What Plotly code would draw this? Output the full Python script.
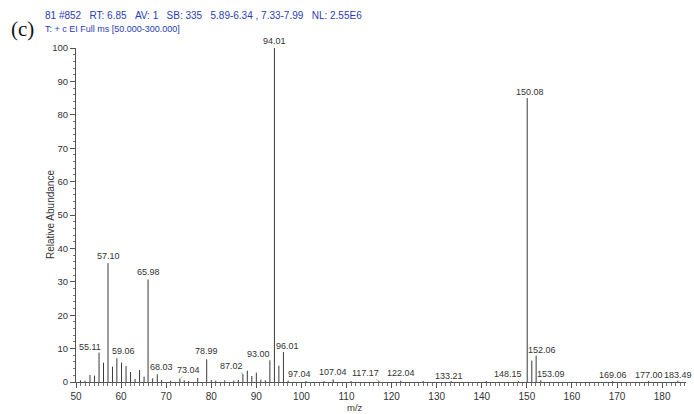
import plotly.graph_objects as go

# Centroided EI mass spectrum (relative abundance, base peak = 100)
mz = [51.0, 52.0, 53.1, 54.1, 55.11, 56.1, 57.10, 58.1, 59.06, 60.1, 61.1, 62.1,
      63.1, 64.1, 65.1, 65.98, 67.0, 68.03, 69.0, 71.0, 73.04, 74.0, 75.0, 77.0,
      78.99, 80.0, 81.0, 83.0, 85.0, 86.0, 87.02, 88.0, 89.0, 90.0, 91.0, 92.0,
      93.00, 94.01, 95.0, 96.01, 97.04, 101.0, 105.0, 107.04, 111.0, 117.17,
      122.04, 127.0, 133.21, 141.0, 148.15, 150.08, 151.1, 152.06, 153.09,
      169.06, 177.00, 183.49]
abundance = [0.5, 0.4, 2.1, 1.9, 8.8, 5.8, 35.6, 4.6, 7.1, 5.8, 4.8, 3.0,
             0.9, 3.6, 1.6, 30.7, 1.1, 2.3, 0.6, 0.4, 1.0, 0.5, 0.3, 1.2,
             6.8, 0.6, 0.4, 0.5, 0.4, 0.6, 2.4, 3.4, 1.8, 2.8, 0.7, 0.5,
             6.5, 100.0, 4.9, 9.0, 0.4, 0.3, 0.3, 0.8, 0.3, 0.3,
             0.4, 0.3, 0.3, 0.3, 0.3, 85.0, 6.4, 7.9, 0.5,
             0.3, 0.3, 0.4]

# Peaks that carry an m/z label
labeled_mz = [55.11, 57.10, 59.06, 65.98, 68.03, 73.04, 78.99, 87.02, 93.00,
              94.01, 96.01, 97.04, 107.04, 117.17, 122.04, 133.21, 148.15,
              150.08, 152.06, 153.09, 169.06, 177.00, 183.49]

x_ticks = list(range(50, 181, 10))
y_ticks = list(range(0, 101, 10))

GAP = "\u00a0\u00a0\u00a0"
header_line1 = ("81 #852" + GAP + "RT: 6.85" + GAP + "AV: 1" + GAP + "SB: 335" + GAP +
                "5.89-6.34 , 7.33-7.99" + GAP + "NL: 2.55E6")
header_line2 = "T: + c EI Full ms [50.000-300.000]"

# label placement: (dx, dy) in pixels from the peak top, and whether a leader is drawn
label_layout = {
    55.11: (-9, -6, True), 57.10: (0, -7, False), 59.06: (7, -7, True),
    65.98: (0, -7, False), 68.03: (4, -7, True), 73.04: (9, -9, True),
    78.99: (0, -8, False), 87.02: (-11, -8, True), 93.00: (-11, -6, True),
    94.01: (0, -7, False), 96.01: (4, -6, True), 97.04: (11, -7, True),
    107.04: (0, -7, False), 117.17: (-13, -8, True), 122.04: (0, -8, False),
    133.21: (-2, -5, False), 148.15: (-11, -7, True), 150.08: (3, -6, False),
    152.06: (6, -6, True), 153.09: (10, -6, True), 169.06: (0, -6, False),
    177.00: (0, -6, False), 183.49: (0, -6, False),
}

FONT = "Liberation Sans, Arial, sans-serif"
STICK = "#3a3a3a"
AXIS = "#555555"
LEADER = "#86d486"
HEADER = "#2a3cb4"

# build the stick spectrum as one trace with gaps between sticks
xs, ys = [], []
for m, a in zip(mz, abundance):
    xs += [m, m, None]
    ys += [0, a, None]

fig = go.Figure()
fig.add_trace(go.Scatter(x=xs, y=ys, mode="lines",
                         line=dict(color=STICK, width=1),
                         hoverinfo="skip", showlegend=False))

lookup = dict(zip(mz, abundance))
annotations = []
for m in labeled_mz:
    dx, dy, leader = label_layout[m]
    common = dict(x=m, y=lookup[m], xref="x", yref="y", text=f"{m:.2f}",
                  font=dict(family=FONT, size=9, color="#333333"))
    if leader:
        annotations.append(dict(**common, showarrow=True, ax=dx, ay=dy,
                                arrowhead=0, arrowwidth=1, arrowcolor=LEADER,
                                standoff=0, startstandoff=0))
    else:
        annotations.append(dict(**common, showarrow=False, xshift=dx, yshift=-dy,
                                xanchor="center", yanchor="middle"))

# header lines and panel tag
annotations += [
    dict(text=header_line1, xref="paper", yref="paper", x=0, y=1,
         xshift=-33, yshift=32.5, xanchor="left", yanchor="middle",
         showarrow=False, font=dict(family=FONT, size=10, color=HEADER)),
    dict(text=header_line2, xref="paper", yref="paper", x=0, y=1,
         xshift=-33, yshift=19, xanchor="left", yanchor="middle",
         showarrow=False, font=dict(family=FONT, size=9, color=HEADER)),
    dict(text="(c)", xref="paper", yref="paper", x=0, y=1,
         xshift=-54, yshift=19, xanchor="center", yanchor="middle",
         showarrow=False,
         font=dict(family="Liberation Serif, Times New Roman, serif", size=21, color="#111111")),
    dict(text="Relative Abundance", xref="paper", yref="paper", x=0, y=0.5,
         xshift=-26, textangle=-90, xanchor="center", yanchor="middle",
         showarrow=False, font=dict(family=FONT, size=10, color="#333333")),
    dict(text="m/z", xref="paper", yref="paper", x=0.457, y=0,
         yshift=-25, xanchor="center", yanchor="middle",
         showarrow=False, font=dict(family=FONT, size=9.5, color="#333333")),
]

fig.update_layout(
    width=694, height=414,
    margin=dict(l=76, r=8, t=48, b=32),
    paper_bgcolor="white", plot_bgcolor="white",
    annotations=annotations,
    xaxis=dict(range=[50, 185.3], tickvals=x_ticks, ticks="outside", ticklen=5,
               tickcolor=AXIS, showline=True, linecolor=AXIS, linewidth=1,
               showgrid=False, zeroline=False,
               tickfont=dict(family=FONT, size=10, color="#333333"),
               minor=dict(dtick=1, ticks="outside", ticklen=2.5, tickcolor="#777777")),
    yaxis=dict(range=[0, 100], tickvals=y_ticks, ticks="outside", ticklen=5,
               tickcolor=AXIS, showline=True, linecolor=AXIS, linewidth=1,
               showgrid=False, zeroline=False,
               tickfont=dict(family=FONT, size=9.5, color="#333333"),
               minor=dict(dtick=2, ticks="outside", ticklen=2.5, tickcolor="#777777")),
)

fig.write_html("out.html")
